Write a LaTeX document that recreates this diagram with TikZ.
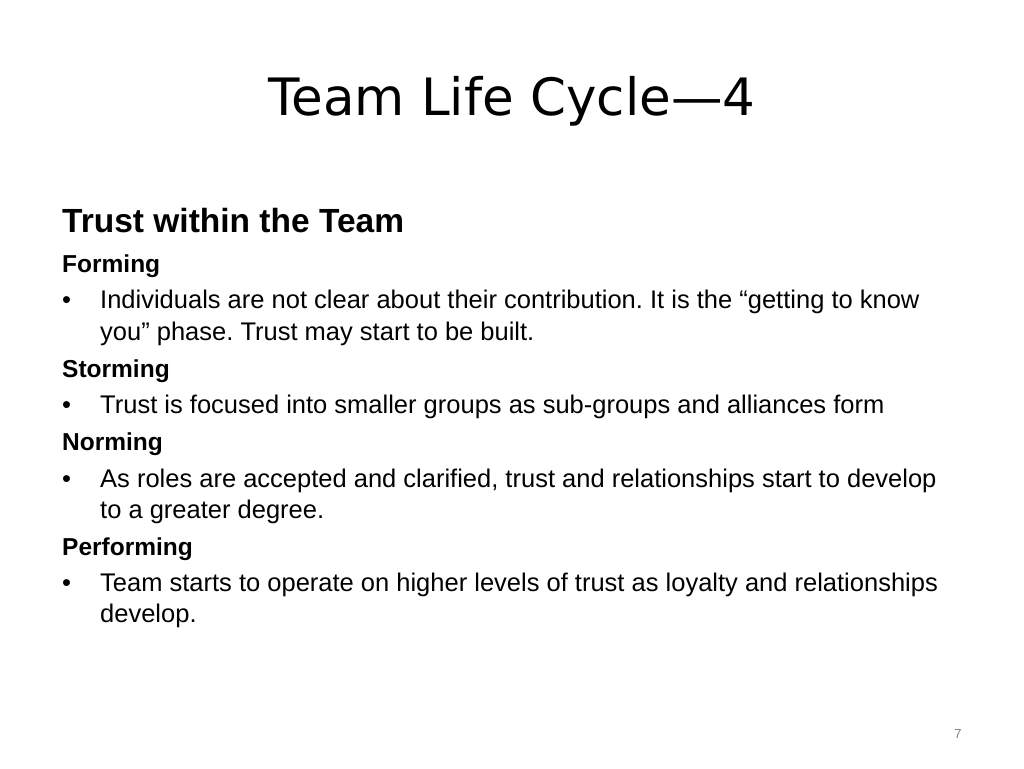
\documentclass[tikz,border=0pt]{standalone}
\usepackage{fontspec}
\setmainfont{Liberation Sans}
\newfontfamily\titlefont{DejaVu Sans}
\frenchspacing
\begin{document}
\begin{tikzpicture}[x=1pt,y=-1pt,
  ln/.style={anchor=base west,inner sep=0pt,font=\fontsize{25.5}{25.5}\selectfont},
  hd/.style={anchor=base west,inner sep=0pt,font=\fontsize{24.5}{24.5}\selectfont\bfseries}]
\useasboundingbox (0,0) rectangle (1024,768);
\node[anchor=base,inner sep=0pt,font=\titlefont\fontsize{51.5}{51.5}\selectfont] (title) at (512,115) {Team Life Cycle—4};
\node[anchor=base west,inner sep=0pt,font=\fontsize{33.5}{33.5}\selectfont\bfseries] (h) at (62,232) {Trust within the Team};
\node[hd] (f) at (62,272) {Forming};
\node[ln] (b1) at (62,308) {•};
\node[ln] (t1) at (100,308) {Individuals are not clear about their contribution. It is the “getting to know};
\node[ln] (t1b) at (100,340) {you{\char"22} phase. Trust may start to be built.};
\node[hd] (s) at (62,377) {Storming};
\node[ln] (b2) at (62,413) {•};
\node[ln] (t2) at (100,413) {Trust is focused into smaller groups as sub-groups and alliances form};
\node[hd] (n) at (62,450) {Norming};
\node[ln] (b3) at (62,487) {•};
\node[ln] (t3) at (100,487) {As roles are accepted and clarified, trust and relationships start to develop};
\node[ln] (t3b) at (100,518) {to a greater degree.};
\node[hd] (p) at (62,555) {Performing};
\node[ln] (b4) at (62,591) {•};
\node[ln] (t4) at (100,591) {Team starts to operate on higher levels of trust as loyalty and relationships};
\node[ln] (t4b) at (100,622) {develop.};
\node[anchor=base,inner sep=0pt,font=\fontsize{13}{13}\selectfont,text=gray] (pg) at (958,738) {7};
\end{tikzpicture}
\end{document}
